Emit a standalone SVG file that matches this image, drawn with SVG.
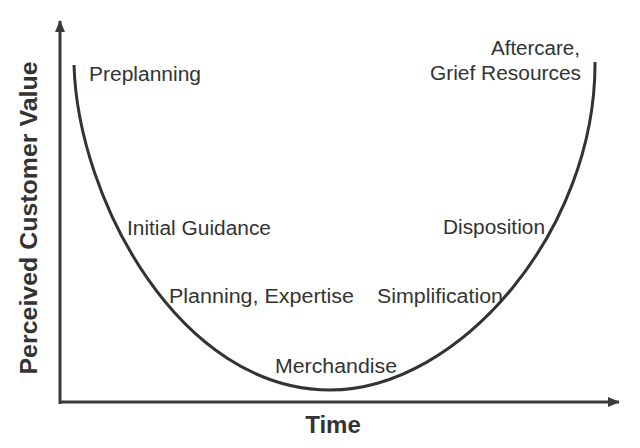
<svg xmlns="http://www.w3.org/2000/svg" width="640" height="448" viewBox="0 0 640 448">
<style>
.lbl{font-family:"Liberation Sans",Arial,sans-serif;font-size:20px;fill:#333}
.ax{font-family:"Liberation Sans",Arial,sans-serif;font-size:24px;font-weight:bold;fill:#333}
.axis{stroke:#3a3a3a;stroke-width:3;fill:none}
.curve{stroke:#333;stroke-width:3;fill:none}
</style>
<defs>
<marker id="arr" viewBox="0 0 12 10" refX="11" refY="5" markerWidth="12" markerHeight="10" markerUnits="userSpaceOnUse" orient="auto">
<path d="M0,0 L12,5 L0,10 Z" fill="#3a3a3a"/>
</marker>
</defs>
<rect width="640" height="448" fill="#fff"/>
<g id="connectors">
<path id="y-axis" class="axis" d="M60,404 L60,21" marker-end="url(#arr)"/>
<path id="x-axis" class="axis" d="M59,402 L619,402" marker-end="url(#arr)"/>
<path id="u-curve" class="curve" d="M74,65 C78,200 180,390 330,390 C460,390 596,230 595,62"/>
</g>
<g id="axis-labels">
<text class="ax" x="333" y="433" text-anchor="middle">Time</text>
<text class="ax" transform="translate(37,218) rotate(-90)" text-anchor="middle" textLength="313" lengthAdjust="spacingAndGlyphs">Perceived Customer Value</text>
</g>
<g id="n-preplanning"><text class="lbl" x="89" y="81" textLength="112" lengthAdjust="spacingAndGlyphs">Preplanning</text></g>
<g id="n-aftercare">
<text class="lbl" x="580" y="55" text-anchor="end" textLength="89" lengthAdjust="spacingAndGlyphs">Aftercare,</text>
<text class="lbl" x="581" y="80" text-anchor="end" textLength="151" lengthAdjust="spacingAndGlyphs">Grief Resources</text>
</g>
<g id="n-initial"><text class="lbl" x="127" y="235" textLength="144" lengthAdjust="spacingAndGlyphs">Initial Guidance</text></g>
<g id="n-disposition"><text class="lbl" x="443" y="234" textLength="102" lengthAdjust="spacingAndGlyphs">Disposition</text></g>
<g id="n-planning"><text class="lbl" x="169" y="303" textLength="185" lengthAdjust="spacingAndGlyphs">Planning, Expertise</text></g>
<g id="n-simplification"><text class="lbl" x="377" y="303" textLength="126" lengthAdjust="spacingAndGlyphs">Simplification</text></g>
<g id="n-merchandise"><text class="lbl" x="275" y="373" textLength="122" lengthAdjust="spacingAndGlyphs">Merchandise</text></g>
</svg>
